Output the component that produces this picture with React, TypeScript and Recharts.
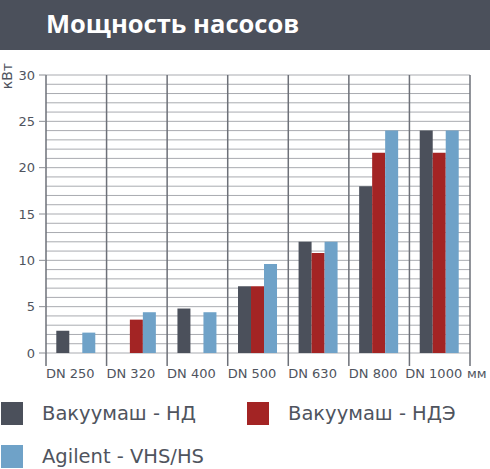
import React from 'react';
import { BarChart, Bar, XAxis, YAxis, CartesianGrid, Label, ReferenceLine } from 'recharts';

const categories = ['DN 250', 'DN 320', 'DN 400', 'DN 500', 'DN 630', 'DN 800', 'DN 1000'];
const vakNd = [2.4, null, 4.8, 7.2, 12, 18, 24];
const vakNde = [null, 3.6, null, 7.2, 10.8, 21.6, 21.6];
const agilent = [2.2, 4.4, 4.4, 9.6, 12, 24, 24];
const yTicks = [0, 5, 10, 15, 20, 25, 30];
const yGridValues = Array.from({ length: 31 }, (_, i) => i);

const seriesNames = ['Вакуумаш - НД', 'Вакуумаш - НДЭ', 'Agilent - VHS/HS'];
const seriesColors = ['#4b505b', '#a32424', '#6fa2c8'];

const chartData = categories.map((name, i) => ({
  name,
  nd: vakNd[i],
  nde: vakNde[i],
  agilent: agilent[i],
}));

const FONT = '"DejaVu Sans", Verdana, sans-serif';
const TEXT = '#4f545e';
const DIVIDER = '#6d7078';

// label + divider tick marks that hang below the plot at band edges
const XTick = ({ x, y, payload, index, width }: any) => {
  const half = payload.offset || width / (2 * categories.length);
  const last = index === categories.length - 1;
  return (
    <g>
      <line x1={x - half} x2={x - half} y1={y} y2={y + 13} stroke={DIVIDER} strokeWidth={1.5} />
      {last && <line x1={x + half} x2={x + half} y1={y} y2={y + 13} stroke={DIVIDER} strokeWidth={1.5} />}
      <text x={x - 6} y={y + 16} dy="0.71em" textAnchor="middle" fontSize={13} fontFamily={FONT} fill={TEXT}>
        {payload.value}
      </text>
    </g>
  );
};

const LegendRow = ({ items }: { items: number[] }) => (
  <div style={{ display: 'flex', alignItems: 'center', height: 23 }}>
    {items.map((idx) => (
      <div key={idx} style={{ display: 'flex', alignItems: 'center', width: 246 }}>
        <div style={{ width: 22, height: 23, background: seriesColors[idx] }} />
        <span style={{ marginLeft: 19, fontSize: 19.5, fontFamily: FONT, color: TEXT, whiteSpace: 'nowrap' }}>
          {seriesNames[idx]}
        </span>
      </div>
    ))}
  </div>
);

export default function App() {
  return (
    <div style={{ position: 'absolute', left: 0, top: 0, width: 490, height: 469, background: '#fff', overflow: 'hidden' }}>
      <div
        style={{
          height: 50,
          background: '#4b505b',
          color: '#fff',
          fontFamily: '"Open Sans", sans-serif',
          fontWeight: 700,
          fontSize: 25.5,
          lineHeight: '46px',
          paddingLeft: 46,
        }}
      >
        Мощность насосов
      </div>

      <BarChart
        width={490}
        height={350}
        data={chartData}
        margin={{ top: 25, right: 20, left: 0, bottom: 17 }}
        barCategoryGap="17%"
        barGap={0}
      >
        <CartesianGrid vertical={false} horizontalValues={yGridValues} stroke="#a9abb0" strokeWidth={1} />

        <XAxis
          dataKey="name"
          type="category"
          interval={0}
          axisLine={false}
          tickLine={false}
          tickSize={0}
          tickMargin={0}
          height={30}
          tick={<XTick />}
        >
          <Label
            content={({ viewBox }: any) => (
              <text
                x={viewBox.x + viewBox.width - 3}
                y={viewBox.y + 16}
                dy="0.71em"
                fontSize={13}
                fontFamily={FONT}
                fill={TEXT}
              >
                мм
              </text>
            )}
          />
        </XAxis>

        <YAxis
          domain={[0, 30]}
          ticks={yTicks}
          interval={0}
          width={46}
          axisLine={false}
          tickLine={{ stroke: '#8b8e94' }}
          tickSize={7}
          tickMargin={4}
          tick={{ fontSize: 13, fontFamily: FONT, fill: TEXT }}
        >
          <Label
            content={({ viewBox }: any) => (
              <text
                x={12}
                y={viewBox.y - 12}
                transform={`rotate(-90, 12, ${viewBox.y - 12})`}
                textAnchor="end"
                fontSize={14}
                fontFamily={FONT}
                fill={TEXT}
              >
                кВт
              </text>
            )}
          />
        </YAxis>

        {categories.map((c) => (
          <ReferenceLine key={c} x={c} position="start" stroke={DIVIDER} strokeWidth={1.5} />
        ))}
        <ReferenceLine x={categories[categories.length - 1]} position="end" stroke={DIVIDER} strokeWidth={1.5} />

        <Bar dataKey="nd" name={seriesNames[0]} fill={seriesColors[0]} isAnimationActive={false} />
        <Bar dataKey="nde" name={seriesNames[1]} fill={seriesColors[1]} isAnimationActive={false} />
        <Bar dataKey="agilent" name={seriesNames[2]} fill={seriesColors[2]} isAnimationActive={false} />
      </BarChart>

      <div style={{ position: 'absolute', left: 1, top: 402 }}>
        <LegendRow items={[0, 1]} />
      </div>
      <div style={{ position: 'absolute', left: 1, top: 445 }}>
        <LegendRow items={[2]} />
      </div>
    </div>
  );
}
